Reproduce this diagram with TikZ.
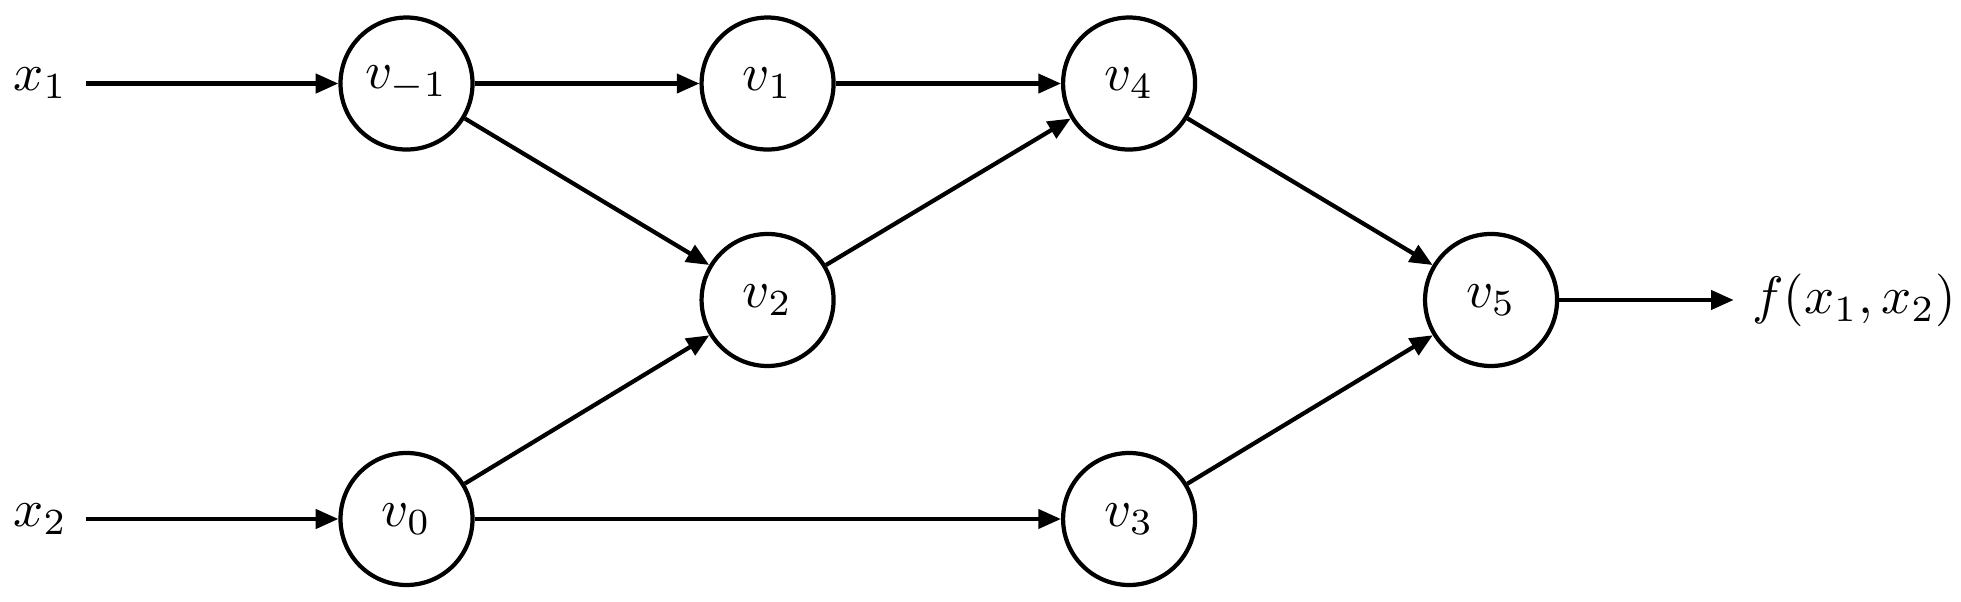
\documentclass[tikz,border=0pt]{standalone}
\usetikzlibrary{arrows.meta}

\begin{document}
\begin{tikzpicture}[
    vert/.style={circle, draw, line width=0.8pt, minimum size=0.88cm, inner sep=0pt},
    arrow/.style={-{Triangle[length=4.3pt, width=3.6pt]}, line width=0.8pt}
]
\useasboundingbox (0, 0) rectangle (13.073, 4.007);

% inputs
\node (x1) at (0.27, 3.45) {$x_1$};
\node (x2) at (0.27, 0.547) {$x_2$};

% vertices of the graph
\node[vert] (vm1) at (2.71, 3.45) {$v_{-1}$};
\node[vert] (v1) at (5.117, 3.45) {$v_1$};
\node[vert] (v4) at (7.527, 3.45) {$v_4$};
\node[vert] (v2) at (5.117, 2.007) {$v_2$};
\node[vert] (v0) at (2.71, 0.547) {$v_0$};
\node[vert] (v3) at (7.527, 0.547) {$v_3$};
\node[vert] (v5) at (9.94, 2.007) {$v_5$};

% output
\node (f) at (12.36, 2.007) {$f(x_1, x_2)$};

% Arrows
\draw[arrow] (x1) -- (vm1);
\draw[arrow] (x2) -- (v0);
\draw[arrow] (vm1) -- (v1);
\draw[arrow] (vm1) -- (v2);
\draw[arrow] (v1) -- (v4);
\draw[arrow] (v2) -- (v4);
\draw[arrow] (v0) -- (v2);
\draw[arrow] (v0) -- (v3);
\draw[arrow] (v4) -- (v5);
\draw[arrow] (v3) -- (v5);
\draw[arrow] (v5) -- (f);

\end{tikzpicture}
\end{document}
